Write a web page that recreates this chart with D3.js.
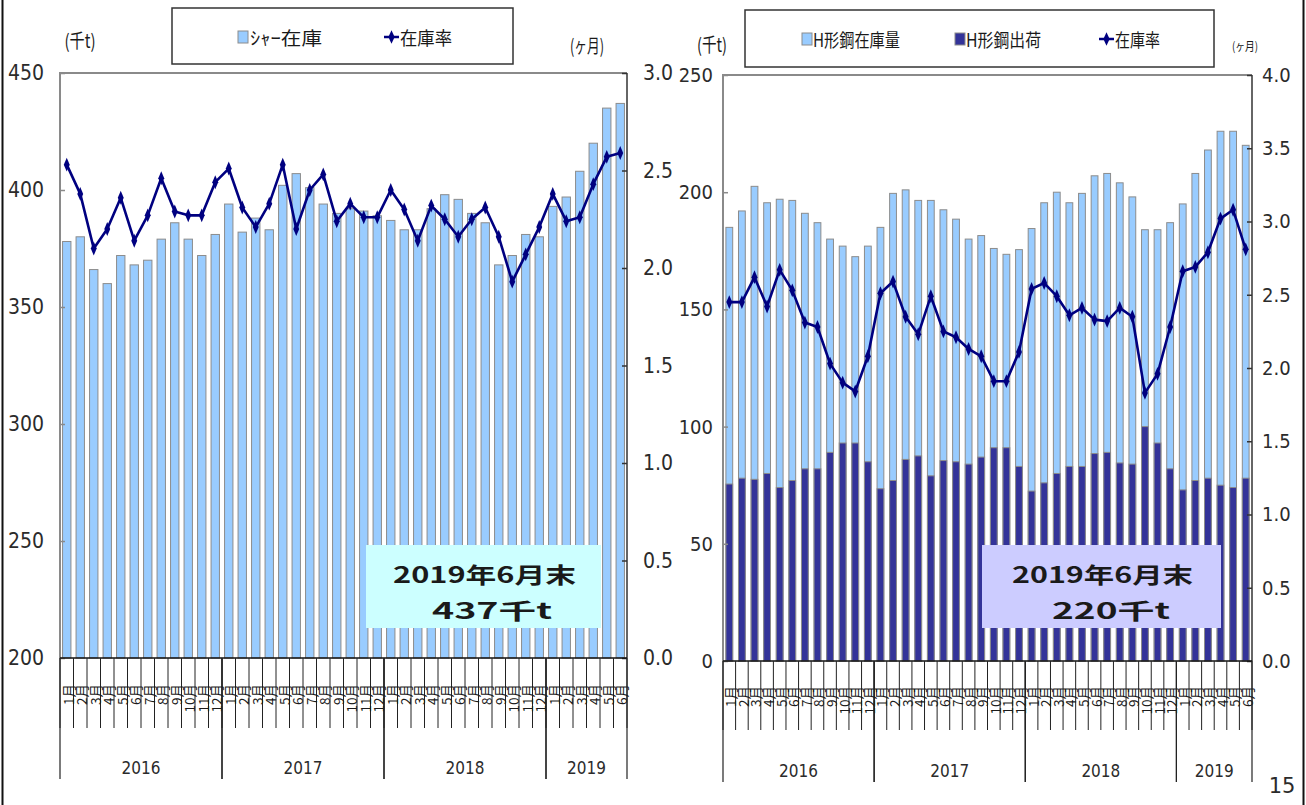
<!DOCTYPE html>
<html lang="ja">
<head>
<meta charset="utf-8">
<script src="https://cdn.jsdelivr.net/npm/d3@7"></script>
<style>
  html, body { margin: 0; padding: 0; background: #fff; }
  svg { display: block; }
  .num { font-family: "Liberation Sans Narrow", "DejaVu Sans Condensed", sans-serif; fill: #2b2b2b; }
  .jp { font-family: "Noto Sans CJK JP", sans-serif; fill: #1a1a1a; }
</style>
</head>
<body>
<svg id="chart" width="1306" height="805"></svg>
<script>
// ---- categories (Jan 2016 – Jun 2019) ----
const years = ["2016", "2017", "2018", "2019"];
const monthsPerYear = [12, 12, 12, 6];
const monthLabels = [
  "1月","2月","3月","4月","5月","6月","7月","8月","9月","10月","11月","12月",
  "1月","2月","3月","4月","5月","6月","7月","8月","9月","10月","11月","12月",
  "1月","2月","3月","4月","5月","6月","7月","8月","9月","10月","11月","12月",
  "1月","2月","3月","4月","5月","6月"
];

// ---- left panel: シャー在庫 (千t) and 在庫率 (ヶ月) ----
const shaStock = [378, 380, 366, 360, 372, 368, 370, 379, 386, 379, 372, 381,
                  394, 382, 388, 383, 402, 407, 401, 394, 390, 392, 391, 389,
                  387, 383, 383, 392, 398, 396, 390, 386, 368, 372, 381, 380,
                  393, 397, 408, 420, 435, 437];
const shaRate = [2.53, 2.38, 2.10, 2.20, 2.36, 2.14, 2.27, 2.46, 2.29, 2.27, 2.27, 2.44,
                 2.51, 2.31, 2.21, 2.33, 2.53, 2.20, 2.40, 2.48, 2.24, 2.33, 2.26, 2.26,
                 2.40, 2.30, 2.14, 2.32, 2.25, 2.16, 2.25, 2.31, 2.16, 1.93, 2.07, 2.21,
                 2.38, 2.24, 2.26, 2.43, 2.57, 2.59];
const shaLeftTicks = [200, 250, 300, 350, 400, 450];
const shaRightTicks = [0, 0.5, 1.0, 1.5, 2.0, 2.5, 3.0];

// ---- right panel: H形鋼在庫量 / H形鋼出荷 (千t) and 在庫率 (ヶ月) ----
const hStock = [185, 192, 202.5, 195.5, 197, 196.5, 191, 187, 180, 177, 172.5, 177,
                185, 199.5, 201, 196.5, 196.5, 192.5, 188.5, 180, 181.5, 176, 173.5, 175.5,
                184.5, 195.5, 200, 195.5, 199.5, 207, 208, 204, 198, 184, 184, 187,
                195, 208, 218, 226, 226, 220];
const hShip = [75.5, 78, 77.5, 80, 74, 77, 82, 82, 89, 93, 93, 85,
               73.5, 77, 86, 87.5, 79, 85.5, 85, 84, 87, 91, 91, 83,
               72.5, 76, 80, 83, 83, 88.5, 89, 84.5, 84, 100, 93, 82,
               73, 77, 78, 75, 74, 78];
const hRate = [2.45, 2.45, 2.62, 2.42, 2.67, 2.53, 2.31, 2.28, 2.03, 1.90, 1.84, 2.08,
               2.51, 2.59, 2.35, 2.23, 2.49, 2.25, 2.21, 2.13, 2.08, 1.91, 1.91, 2.11,
               2.54, 2.58, 2.49, 2.36, 2.41, 2.33, 2.32, 2.41, 2.35, 1.83, 1.96, 2.28,
               2.66, 2.69, 2.79, 3.02, 3.08, 2.81];
const hLeftTicks = [0, 50, 100, 150, 200, 250];
const hRightTicks = [0, 0.5, 1.0, 1.5, 2.0, 2.5, 3.0, 3.5, 4.0];

const LIGHT = "#99ccff", DARK = "#333399", LINE = "#000080", EDGE = "#8c8c8c";

const svg = d3.select("#chart");

// page frame
svg.append("line").attr("x1", 2.5).attr("x2", 2.5).attr("y1", 0).attr("y2", 805)
  .attr("stroke", "#111").attr("stroke-width", 2);
svg.append("line").attr("x1", 1303.5).attr("x2", 1303.5).attr("y1", 0).attr("y2", 805)
  .attr("stroke", "#111").attr("stroke-width", 2);
svg.append("text").attr("class", "num").attr("x", 1282).attr("y", 793)
  .attr("text-anchor", "middle").attr("font-size", 21)
  .style("font-family", "'DejaVu Sans', sans-serif").attr("fill", "#222").text("15");

const diamond = d3.symbol().type(d3.symbolDiamond).size(42);

function drawPanel(p) {
  const g = svg.append("g");
  const idx = d3.range(monthLabels.length);
  const x = d3.scaleBand().domain(idx).range([p.x0, p.x1]).padding(0);
  const yL = d3.scaleLinear().domain(p.leftDomain).range([p.yBot, p.yTop]);
  const yR = d3.scaleLinear().domain(p.rightDomain).range([p.yBot, p.yTop]);
  const bw = x.bandwidth() * p.barFrac;

  // bars
  p.bars.forEach(b => {
    g.append("g").selectAll("rect").data(b.values).join("rect")
      .attr("x", (d, i) => x(i) + (x.bandwidth() - bw) / 2)
      .attr("y", d => yL(d))
      .attr("width", bw)
      .attr("height", d => yL(p.leftDomain[0]) - yL(d))
      .attr("fill", b.color)
      .attr("stroke", EDGE).attr("stroke-width", 1);
  });

  // plot frame: grey left/top, dark right and bottom axes
  g.append("path").attr("d", `M${p.x0},${p.yBot}V${p.yTop}H${p.x1}`)
    .attr("fill", "none").attr("stroke", "#8a8a8a").attr("stroke-width", 2);
  g.append("line").attr("x1", p.x1).attr("x2", p.x1).attr("y1", p.yTop).attr("y2", p.yBot)
    .attr("stroke", "#333").attr("stroke-width", 1.5);

  // left axis
  const axL = g.append("g").attr("transform", `translate(${p.x0},0)`)
    .call(d3.axisLeft(yL).tickValues(p.leftTicks).tickSize(-5).tickPadding(p.pad)
      .tickFormat(d3.format("d")));
  axL.select(".domain").remove();
  axL.selectAll("line").attr("stroke", "#8a8a8a").attr("stroke-width", 1.5);
  axL.selectAll("text").attr("class", "num").attr("font-size", p.fs).attr("fill", "#2b2b2b");

  // right axis
  const axR = g.append("g").attr("transform", `translate(${p.x1},0)`)
    .call(d3.axisRight(yR).tickValues(p.rightTicks).tickSize(-5).tickPadding(p.pad)
      .tickFormat(d3.format(".1f")));
  axR.select(".domain").remove();
  axR.selectAll("line").attr("stroke", "#333").attr("stroke-width", 1.5);
  axR.selectAll("text").attr("class", "num").attr("font-size", p.fs).attr("fill", "#2b2b2b");

  // rate line
  const line = d3.line().x((d, i) => x(i) + x.bandwidth() / 2).y(d => yR(d));
  g.append("path").datum(p.rate).attr("d", line)
    .attr("fill", "none").attr("stroke", LINE).attr("stroke-width", 2.6)
    .attr("stroke-linejoin", "round");
  g.append("g").selectAll("path").data(p.rate).join("path")
    .attr("d", diamond)
    .attr("transform", (d, i) => `translate(${x(i) + x.bandwidth() / 2},${yR(d)}) scale(0.85,1.15)`)
    .attr("fill", LINE);

  // bottom category axis
  g.append("line").attr("x1", p.x0).attr("x2", p.x1).attr("y1", p.yBot).attr("y2", p.yBot)
    .attr("stroke", "#111").attr("stroke-width", 1.5);
  const bounds = d3.range(monthLabels.length + 1).map(i => i < monthLabels.length ? x(i) : p.x1);
  g.append("g").selectAll("line").data(bounds).join("line")
    .attr("x1", d => d).attr("x2", d => d)
    .attr("y1", p.yBot).attr("y2", p.monthTickEnd)
    .attr("stroke", "#222").attr("stroke-width", 1);
  g.append("g").selectAll("text").data(monthLabels).join("text")
    .attr("class", "jp")
    .attr("transform", (d, i) => `translate(${x(i) + x.bandwidth() / 2 + 1},${p.labelTop}) rotate(-90)`)
    .attr("text-anchor", "end").attr("dominant-baseline", "central")
    .attr("font-size", 13.5).attr("fill", "#111").text(d => d);

  // year groups
  let start = 0;
  years.forEach((yr, k) => {
    const end = start + monthsPerYear[k];
    const xa = x(start), xb = end < monthLabels.length ? x(end) : p.x1;
    [xa, xb].forEach(xv => {
      g.append("line").attr("x1", xv).attr("x2", xv).attr("y1", p.yBot).attr("y2", p.yearTickEnd)
        .attr("stroke", "#222").attr("stroke-width", 1.2);
    });
    g.append("text").attr("class", "num").attr("x", (xa + xb) / 2).attr("y", p.yearY)
      .attr("text-anchor", "middle").attr("font-size", 17).attr("fill", "#222").text(yr);
    start = end;
  });

  // unit labels
  g.append("text").attr("class", "jp").attr("x", p.unitL.x).attr("y", p.unitL.y)
    .attr("text-anchor", "middle").attr("font-size", p.unitL.fs)
    .attr("textLength", p.unitL.w).attr("lengthAdjust", "spacingAndGlyphs").text("(千t)");
  g.append("text").attr("class", "jp").attr("x", p.unitR.x).attr("y", p.unitR.y)
    .attr("text-anchor", "middle").attr("font-size", p.unitR.fs)
    .attr("textLength", p.unitR.w).attr("lengthAdjust", "spacingAndGlyphs").text("(ヶ月)");

  // legend
  const L = p.legend;
  g.append("rect").attr("x", L.x).attr("y", L.y).attr("width", L.w).attr("height", L.h)
    .attr("fill", "#fff").attr("stroke", "#333").attr("stroke-width", 1.5);
  L.items.forEach(it => {
    if (it.type === "box") {
      g.append("rect").attr("x", it.x).attr("y", L.cy - 6).attr("width", 10).attr("height", 12)
        .attr("fill", it.color).attr("stroke", EDGE).attr("stroke-width", 1);
    } else {
      g.append("line").attr("x1", it.x - 2).attr("x2", it.x + 13).attr("y1", L.cy).attr("y2", L.cy)
        .attr("stroke", LINE).attr("stroke-width", 2.5);
      g.append("path").attr("d", diamond).attr("fill", LINE)
        .attr("transform", `translate(${it.x + 5.5},${L.cy}) scale(0.9,1.1)`);
    }
    g.append("text").attr("class", "jp").attr("x", it.tx).attr("y", L.cy)
      .attr("dominant-baseline", "central").attr("font-size", 18)
      .attr("textLength", it.tw).attr("lengthAdjust", "spacingAndGlyphs").text(it.label);
  });

  // note box
  const N = p.note;
  g.append("rect").attr("x", N.x).attr("y", N.y).attr("width", N.w).attr("height", N.h)
    .attr("fill", N.color);
  N.lines.forEach(t => {
    g.append("text").attr("class", "jp").attr("x", t.x).attr("y", t.y)
      .attr("font-size", 22).attr("font-weight", 700).attr("fill", "#111")
      .attr("textLength", t.w).attr("lengthAdjust", "spacingAndGlyphs").text(t.text);
  });
}

drawPanel({
  x0: 60, x1: 627, yTop: 73, yBot: 658,
  leftDomain: [200, 450], rightDomain: [0, 3],
  leftTicks: shaLeftTicks, rightTicks: shaRightTicks,
  pad: 16, fs: 21, barFrac: 0.62,
  bars: [{ values: shaStock, color: LIGHT }],
  rate: shaRate,
  monthTickEnd: 728, labelTop: 684, yearTickEnd: 779, yearY: 774,
  unitL: { x: 80, y: 48, fs: 19, w: 31 },
  unitR: { x: 587, y: 53, fs: 19, w: 34 },
  legend: {
    x: 172, y: 8, w: 341, h: 56, cy: 37,
    items: [
      { type: "box", x: 238, color: LIGHT, tx: 250, tw: 72, label: "ｼｬｰ在庫" },
      { type: "line", x: 386, tx: 400, tw: 52, label: "在庫率" }
    ]
  },
  note: {
    x: 366, y: 545, w: 235, h: 83, color: "#ccffff",
    lines: [
      { x: 393, y: 583, w: 183, text: "2019年6月末" },
      { x: 432, y: 619, w: 120, text: "437千t" }
    ]
  }
});

drawPanel({
  x0: 723, x1: 1252, yTop: 75, yBot: 661,
  leftDomain: [0, 250], rightDomain: [0, 4],
  leftTicks: hLeftTicks, rightTicks: hRightTicks,
  pad: 10, fs: 20, barFrac: 0.54,
  bars: [{ values: hStock, color: LIGHT }, { values: hShip, color: DARK }],
  rate: hRate,
  monthTickEnd: 730, labelTop: 686, yearTickEnd: 782, yearY: 777,
  unitL: { x: 712, y: 52, fs: 19, w: 30 },
  unitR: { x: 1245, y: 51, fs: 12, w: 26 },
  legend: {
    x: 745, y: 10, w: 469, h: 57, cy: 39,
    items: [
      { type: "box", x: 802, color: LIGHT, tx: 813, tw: 87, label: "H形鋼在庫量" },
      { type: "box", x: 955, color: DARK, tx: 966, tw: 75, label: "H形鋼出荷" },
      { type: "line", x: 1101, tx: 1115, tw: 45, label: "在庫率" }
    ]
  },
  note: {
    x: 982, y: 545, w: 239, h: 83, color: "#ccccff",
    lines: [
      { x: 1012, y: 583, w: 181, text: "2019年6月末" },
      { x: 1052, y: 619, w: 118, text: "220千t" }
    ]
  }
});
</script>
</body>
</html>
